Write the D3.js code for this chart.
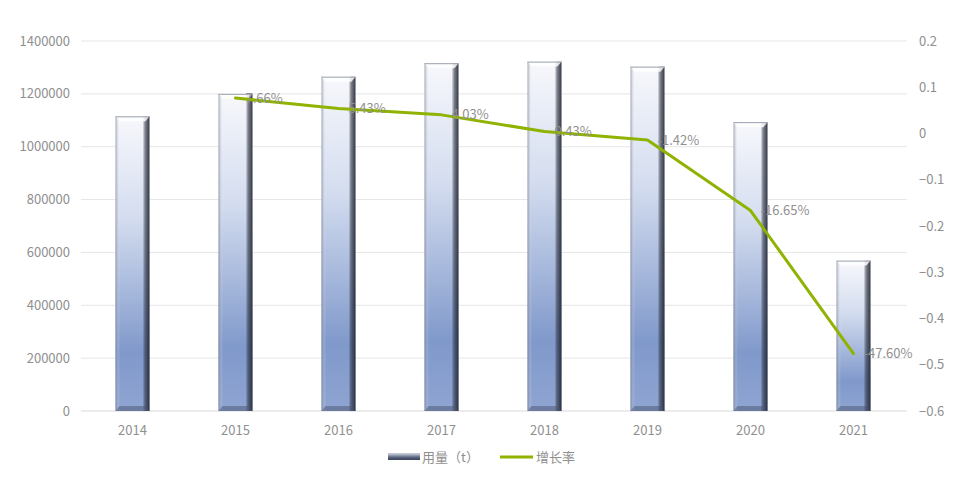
<!DOCTYPE html>
<html><head><meta charset="utf-8">
<script src="https://cdn.jsdelivr.net/npm/d3@7"></script>
<style>
body{margin:0;background:#fff;}
text{font-family:"Noto Sans CJK SC","Noto Sans",sans-serif;}
</style></head>
<body>
<svg id="c" width="978" height="495"></svg>
<script>
const years = ["2014","2015","2016","2017","2018","2019","2020","2021"];
const usage = [1115000, 1200000, 1265000, 1316000, 1322000, 1303000, 1093000, 569000];
const growthYears = ["2015","2016","2017","2018","2019","2020","2021"];
const growth = [0.0766, 0.0543, 0.0403, 0.0043, -0.0142, -0.1665, -0.4760];
const growthLabels = ["7.66%","5.43%","4.03%","0.43%","-1.42%","-16.65%","-47.60%"];
const leftTicks = [0,200000,400000,600000,800000,1000000,1200000,1400000];
const rightTicks = [0.2,0.1,0,-0.1,-0.2,-0.3,-0.4,-0.5,-0.6];
const legendLabels = ["用量（t）","增长率"];

const svg = d3.select("#c");
const L = 81, R = 905, T = 41, B = 411;
const x = d3.scaleBand().domain(years).range([L, R]).paddingInner(0.67).paddingOuter(0.335);
const yL = d3.scaleLinear().domain([0, 1400000]).range([B, T]);
const yR = d3.scaleLinear().domain([-0.6, 0.2]).range([B, T]);
const textCol = "#8f8f8f";

const defs = svg.append("defs");
const gv = defs.append("linearGradient").attr("id","gv").attr("x1",0).attr("y1",0).attr("x2",0).attr("y2",1);
gv.append("stop").attr("offset","0%").attr("stop-color","#f7f8fc");
gv.append("stop").attr("offset","35%").attr("stop-color","#d3dcef");
gv.append("stop").attr("offset","80%").attr("stop-color","#8099cb");
gv.append("stop").attr("offset","100%").attr("stop-color","#8fa5d2");
const gh = defs.append("linearGradient").attr("id","gh").attr("x1",0).attr("y1",0).attr("x2",1).attr("y2",0);
gh.append("stop").attr("offset","0%").attr("stop-color","#6d7386").attr("stop-opacity",0.6);
gh.append("stop").attr("offset","13%").attr("stop-color","#ffffff").attr("stop-opacity",0.0);
gh.append("stop").attr("offset","80%").attr("stop-color","#000").attr("stop-opacity",0.0);
gh.append("stop").attr("offset","88%").attr("stop-color","#2a2f3d").attr("stop-opacity",0.6);
gh.append("stop").attr("offset","100%").attr("stop-color","#1e2330").attr("stop-opacity",0.9);
const gl = defs.append("linearGradient").attr("id","gl").attr("x1",0).attr("y1",0).attr("x2",0).attr("y2",1);
gl.append("stop").attr("offset","0%").attr("stop-color","#dfe4ee");
gl.append("stop").attr("offset","60%").attr("stop-color","#5b6581");
gl.append("stop").attr("offset","100%").attr("stop-color","#3a4258");

// gridlines
svg.append("g").selectAll("line").data(leftTicks).join("line")
  .attr("x1", L).attr("x2", R+2).attr("y1", d=>yL(d)).attr("y2", d=>yL(d))
  .attr("stroke", d=>d===0?"#d9d9d9":"#e6e6e6").attr("stroke-width",1);

// left axis labels
svg.append("g").selectAll("text").data(leftTicks).join("text")
  .attr("x", 70).attr("y", d=>yL(d)).attr("dy","0.35em").attr("text-anchor","end")
  .attr("font-size",13).attr("fill",textCol).text(d=>d);

// right axis labels
svg.append("g").selectAll("text").data(rightTicks).join("text")
  .attr("x", 919).attr("y", d=>yR(d)).attr("dy","0.35em").attr("text-anchor","start")
  .attr("font-size",13).attr("fill",textCol).text(d=>d3.format("")(+d.toFixed(1)));

// x labels
svg.append("g").selectAll("text").data(years).join("text")
  .attr("x", d=>x(d)+x.bandwidth()/2).attr("y", 430).attr("dy","0.35em").attr("text-anchor","middle")
  .attr("font-size",13).attr("fill",textCol).text(d=>d);

// bars
const bw = x.bandwidth();
const bars = svg.append("g").selectAll("g").data(years.map((y,i)=>({y, v:usage[i]}))).join("g");
bars.append("rect").attr("x", d=>x(d.y)).attr("y", d=>yL(d.v)).attr("width", bw).attr("height", d=>B-yL(d.v))
  .attr("fill","url(#gv)");
bars.append("rect").attr("x", d=>x(d.y)).attr("y", d=>yL(d.v)).attr("width", bw).attr("height", d=>B-yL(d.v))
  .attr("fill","url(#gh)");
// top bevel
bars.append("path").attr("d", d=>{const x0=x(d.y), y0=yL(d.v); return `M${x0},${y0}L${x0+bw},${y0}L${x0+bw-4},${y0+5}L${x0+4},${y0+5}Z`;})
  .attr("fill","#ffffff").attr("opacity",0.8);
bars.append("line").attr("x1", d=>x(d.y)).attr("x2", d=>x(d.y)+bw).attr("y1", d=>yL(d.v)+0.5).attr("y2", d=>yL(d.v)+0.5)
  .attr("stroke","#9aa0ad").attr("stroke-width",1);
// bottom bevel
bars.append("path").attr("d", d=>{const x0=x(d.y); return `M${x0+4},${B-5}L${x0+bw-4},${B-5}L${x0+bw},${B}L${x0},${B}Z`;})
  .attr("fill","#4a5470").attr("opacity",0.5);

// line
const pts = growthYears.map((y,i)=>({y, v:growth[i], l:growthLabels[i]}));
svg.append("path").datum(pts)
  .attr("d", d3.line().x(d=>x(d.y)+bw/2).y(d=>yR(d.v)))
  .attr("fill","none").attr("stroke","#8fb300").attr("stroke-width",3).attr("stroke-linejoin","round").attr("stroke-linecap","round");

// data labels
svg.append("g").selectAll("text").data(pts).join("text")
  .attr("x", d=>x(d.y)+bw/2+10).attr("y", d=>yR(d.v)).attr("dy","0.35em")
  .attr("font-size",13).attr("fill",textCol).text(d=>d.l);

// legend
const lg = svg.append("g");
lg.append("rect").attr("x",388).attr("y",453).attr("width",32).attr("height",7).attr("fill","url(#gl)");
lg.append("line").attr("x1",388).attr("x2",420).attr("y1",453.5).attr("y2",453.5).attr("stroke","#c4c8d2");
lg.append("text").attr("x",422).attr("y",457).attr("dy","0.35em").attr("font-size",13).attr("fill",textCol).text(legendLabels[0]);
lg.append("line").attr("x1",500).attr("x2",533).attr("y1",457).attr("y2",457).attr("stroke","#8fb300").attr("stroke-width",3);
lg.append("text").attr("x",536).attr("y",457).attr("dy","0.35em").attr("font-size",13).attr("fill",textCol).text(legendLabels[1]);
</script>
</body></html>
